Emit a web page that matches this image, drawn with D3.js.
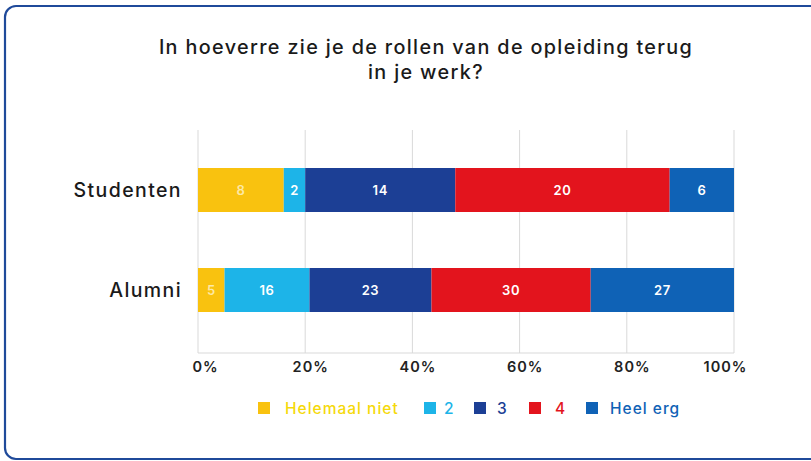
<!DOCTYPE html>
<html>
<head>
<meta charset="utf-8">
<script src="https://cdn.jsdelivr.net/npm/d3@7"></script>
<style>
  body { margin: 0; background: #fff; }
  svg { display: block; }
</style>
</head>
<body>
<svg id="chart"></svg>
<script>
// DATA
var groups = ["Studenten", "Alumni"];
var answers = ["Helemaal niet", "2", "3", "4", "Heel erg"];
var studenten = [8, 2, 14, 20, 6];
var alumni = [5, 16, 23, 30, 27];
var xTicks = [0, 0.2, 0.4, 0.6, 0.8, 1.0];

// COLORS
var colors = ["#f9c20f", "#1db4e8", "#1c3f95", "#e3141d", "#0f62b6"];

// SIZES
var width = 811;
var height = 461;
var xLeft = 198, xRight = 734;
var yTop = 130, yBottom = 353;
var font = "Inter, sans-serif";

var svg = d3.select("#chart").attr("width", width).attr("height", height);

// frame
svg.append("rect")
  .attr("x", 5).attr("y", 6)
  .attr("width", 840).attr("height", 453)
  .attr("rx", 11)
  .attr("fill", "#fff")
  .attr("stroke", "#1f4a9a")
  .attr("stroke-width", 2.2);

// title
var title = ["In hoeverre zie je de rollen van de opleiding terug", "in je werk?"];
svg.selectAll("text.title")
  .data(title)
  .enter()
  .append("text")
  .attr("class", "title")
  .attr("x", 426)
  .attr("y", (d, i) => 54 + i * 25)
  .attr("text-anchor", "middle")
  .attr("font-family", font)
  .attr("font-weight", 500)
  .attr("font-size", 19.8)
  .attr("letter-spacing", 1.35)
  .attr("fill", "#1a1a1a")
  .text(d => d);

var x = d3.scaleLinear().domain([0, 1]).range([xLeft, xRight]);
var y = d3.scaleBand().domain(groups).range([140, 340]).paddingInner(0.56).paddingOuter(0.28);

// grid
svg.append("g")
  .selectAll("line")
  .data(xTicks)
  .enter()
  .append("line")
  .attr("x1", d => x(d)).attr("x2", d => x(d))
  .attr("y1", yTop).attr("y2", yBottom)
  .attr("stroke", "#d9d9d9")
  .attr("stroke-width", 1);

svg.append("line")
  .attr("x1", xLeft).attr("x2", xRight)
  .attr("y1", yBottom).attr("y2", yBottom)
  .attr("stroke", "#d9d9d9");

// x axis
var xAxis = svg.append("g")
  .attr("transform", "translate(0," + (yBottom + 3) + ")")
  .call(d3.axisBottom(x).tickValues(xTicks).tickFormat(d3.format(".0%")).tickSize(0).tickPadding(6));
xAxis.select(".domain").remove();
xAxis.selectAll("text")
  .attr("font-family", font)
  .attr("font-weight", 600)
  .attr("font-size", 14.5)
  .attr("letter-spacing", 1.0)
  .attr("fill", "#222")
  .attr("dx", d => d == 0 ? 7 : (d == 1 ? -9 : 5));

// y labels
svg.append("g")
  .selectAll("text")
  .data(groups)
  .enter()
  .append("text")
  .attr("x", 182)
  .attr("y", d => y(d) + y.bandwidth() / 2)
  .attr("dy", "0.36em")
  .attr("text-anchor", "end")
  .attr("font-family", font)
  .attr("font-weight", 500)
  .attr("font-size", 19.5)
  .attr("letter-spacing", 1.4)
  .attr("fill", "#1a1a1a")
  .text(d => d);

// stacks
var rows = [studenten, alumni].map(function(vals, i) {
  var total = d3.sum(vals);
  var acc = 0;
  return vals.map(function(v, j) {
    var seg = {group: groups[i], value: v, k: j, x0: acc / total, x1: (acc + v) / total};
    acc += v;
    return seg;
  });
});
var segs = rows[0].concat(rows[1]);

svg.append("g")
  .selectAll("rect")
  .data(segs)
  .enter()
  .append("rect")
  .attr("x", d => x(d.x0))
  .attr("width", d => x(d.x1) - x(d.x0))
  .attr("y", d => y(d.group))
  .attr("height", y.bandwidth())
  .attr("fill", d => colors[d.k]);

svg.append("g")
  .selectAll("text")
  .data(segs)
  .enter()
  .append("text")
  .attr("x", d => (x(d.x0) + x(d.x1)) / 2)
  .attr("y", d => y(d.group) + y.bandwidth() / 2)
  .attr("dy", "0.36em")
  .attr("text-anchor", "middle")
  .attr("font-family", font)
  .attr("font-weight", 600)
  .attr("font-size", 13)
  .attr("letter-spacing", 0.6)
  .attr("fill", d => d.k == 0 ? "#fde9a6" : "#fff")
  .text(d => d.value);

// legend
var legendX = [258, 424, 474, 529, 586];
var legendTextX = [285, 444, 497, 555, 610];
var legend = svg.append("g")
  .selectAll("g")
  .data(answers)
  .enter()
  .append("g");
legend.append("rect")
  .attr("x", (d, i) => legendX[i])
  .attr("y", 402)
  .attr("width", 12).attr("height", 12)
  .attr("fill", (d, i) => colors[i]);
legend.append("text")
  .attr("x", (d, i) => legendTextX[i])
  .attr("y", 408)
  .attr("dy", "0.36em")
  .attr("font-family", font)
  .attr("font-weight", 500)
  .attr("font-size", 15.5)
  .attr("letter-spacing", 1.0)
  .attr("fill", (d, i) => i == 0 ? "#f5d90a" : colors[i])
  .text(d => d);
</script>
</body>
</html>
